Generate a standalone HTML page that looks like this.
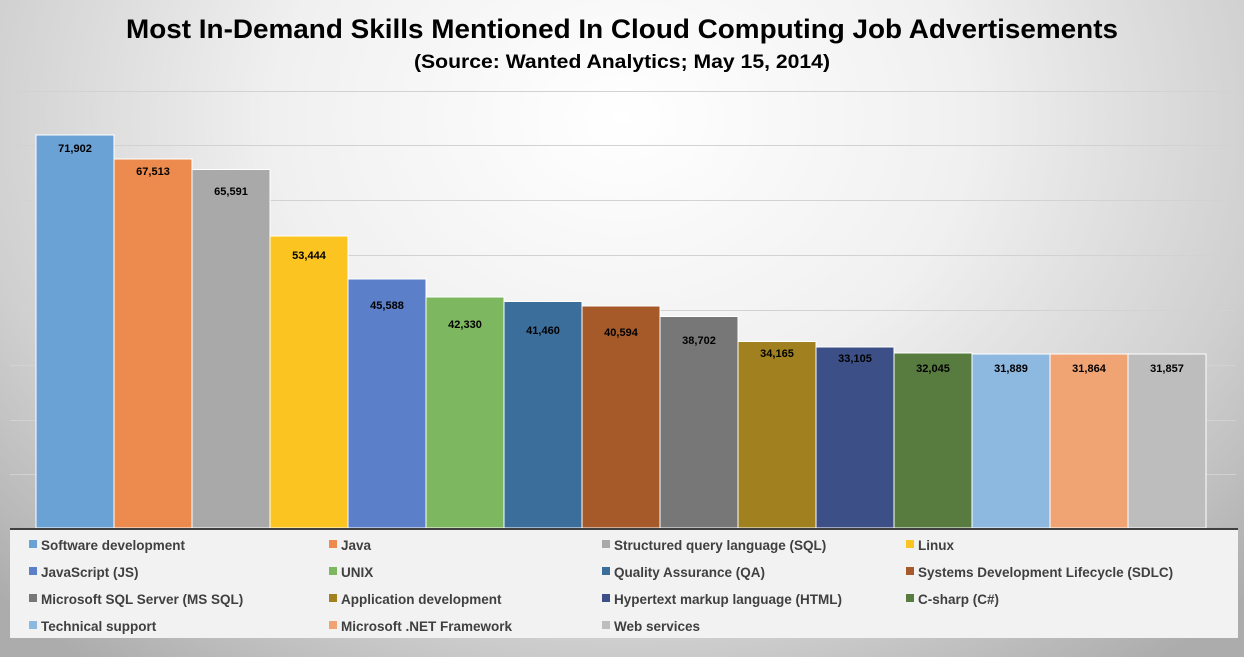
<!DOCTYPE html>
<html><head><meta charset="utf-8"><style>
html,body{margin:0;padding:0;}
body{width:1244px;height:657px;overflow:hidden;background:radial-gradient(ellipse 70% 105% at 50% 18%,#ffffff 0%,#f0f0f0 40%,#cfcfcf 75%,#acacac 100%);}
svg{display:block;font-family:"Liberation Sans",sans-serif;}
</style></head><body>
<svg width="1244" height="657" viewBox="0 0 1244 657">
<text x="622" y="38" text-anchor="middle" font-size="27" font-weight="bold" textLength="992" lengthAdjust="spacingAndGlyphs">Most In-Demand Skills Mentioned In Cloud Computing Job Advertisements</text>
<text x="622" y="68" text-anchor="middle" font-size="19" font-weight="bold" textLength="416" lengthAdjust="spacingAndGlyphs">(Source: Wanted Analytics; May 15, 2014)</text>
<g stroke="#d2d2d2" stroke-width="1">
<line x1="10" x2="1236" y1="91.5" y2="91.5"/>
<line x1="10" x2="1236" y1="145.5" y2="145.5"/>
<line x1="10" x2="1236" y1="200.5" y2="200.5"/>
<line x1="10" x2="1236" y1="255.5" y2="255.5"/>
<line x1="10" x2="1236" y1="310.5" y2="310.5"/>
<line x1="10" x2="1236" y1="365.5" y2="365.5"/>
<line x1="10" x2="1236" y1="420.5" y2="420.5"/>
<line x1="10" x2="1236" y1="474.5" y2="474.5"/>
</g>
<g stroke="#ffffff" stroke-width="1">
<rect x="36" y="135" width="78" height="393" fill="#6aa2d6"/>
<rect x="114" y="159" width="78" height="369" fill="#ec8b4d"/>
<rect x="192" y="169.5" width="78" height="358.5" fill="#a9a9a9"/>
<rect x="270" y="236" width="78" height="292" fill="#fbc421"/>
<rect x="348" y="279" width="78" height="249" fill="#5b7fc8"/>
<rect x="426" y="297" width="78" height="231" fill="#7db860"/>
<rect x="504" y="301.5" width="78" height="226.5" fill="#3c6e9c"/>
<rect x="582" y="306" width="78" height="222" fill="#a65a2a"/>
<rect x="660" y="316.5" width="78" height="211.5" fill="#777777"/>
<rect x="738" y="341.5" width="78" height="186.5" fill="#a1811f"/>
<rect x="816" y="347" width="78" height="181" fill="#3c5087"/>
<rect x="894" y="353" width="78" height="175" fill="#587c40"/>
<rect x="972" y="354" width="78" height="174" fill="#8db8e0"/>
<rect x="1050" y="354" width="78" height="174" fill="#f0a474"/>
<rect x="1128" y="354" width="78" height="174" fill="#bdbdbd"/>
</g>
<g font-size="11" font-weight="bold" text-anchor="middle" fill="#000">
<text x="75" y="152">71,902</text>
<text x="153" y="175">67,513</text>
<text x="231" y="195">65,591</text>
<text x="309" y="259">53,444</text>
<text x="387" y="309">45,588</text>
<text x="465" y="328">42,330</text>
<text x="543" y="334">41,460</text>
<text x="621" y="336">40,594</text>
<text x="699" y="344">38,702</text>
<text x="777" y="357">34,165</text>
<text x="855" y="362">33,105</text>
<text x="933" y="372">32,045</text>
<text x="1011" y="372">31,889</text>
<text x="1089" y="372">31,864</text>
<text x="1167" y="372">31,857</text>
</g>
<line x1="10" x2="1238" y1="529" y2="529" stroke="#404040" stroke-width="2"/>
<rect x="10" y="530" width="1228" height="108" fill="#f2f2f2"/>
<g font-size="13.5" font-weight="bold" fill="#404040">
<rect x="29" y="540" width="8" height="8" fill="#6aa2d6"/><text x="41" y="550">Software development</text>
<rect x="329" y="540" width="8" height="8" fill="#ec8b4d"/><text x="341" y="550">Java</text>
<rect x="602" y="540" width="8" height="8" fill="#a9a9a9"/><text x="614" y="550">Structured query language (SQL)</text>
<rect x="906" y="540" width="8" height="8" fill="#fbc421"/><text x="918" y="550">Linux</text>
<rect x="29" y="567" width="8" height="8" fill="#5b7fc8"/><text x="41" y="577">JavaScript (JS)</text>
<rect x="329" y="567" width="8" height="8" fill="#7db860"/><text x="341" y="577">UNIX</text>
<rect x="602" y="567" width="8" height="8" fill="#3c6e9c"/><text x="614" y="577">Quality Assurance (QA)</text>
<rect x="906" y="567" width="8" height="8" fill="#a65a2a"/><text x="918" y="577">Systems Development Lifecycle (SDLC)</text>
<rect x="29" y="594" width="8" height="8" fill="#777777"/><text x="41" y="604">Microsoft SQL Server (MS SQL)</text>
<rect x="329" y="594" width="8" height="8" fill="#a1811f"/><text x="341" y="604">Application development</text>
<rect x="602" y="594" width="8" height="8" fill="#3c5087"/><text x="614" y="604">Hypertext markup language (HTML)</text>
<rect x="906" y="594" width="8" height="8" fill="#587c40"/><text x="918" y="604">C-sharp (C#)</text>
<rect x="29" y="621" width="8" height="8" fill="#8db8e0"/><text x="41" y="631">Technical support</text>
<rect x="329" y="621" width="8" height="8" fill="#f0a474"/><text x="341" y="631">Microsoft .NET Framework</text>
<rect x="602" y="621" width="8" height="8" fill="#bdbdbd"/><text x="614" y="631">Web services</text>
</g>
</svg>
</body></html>
